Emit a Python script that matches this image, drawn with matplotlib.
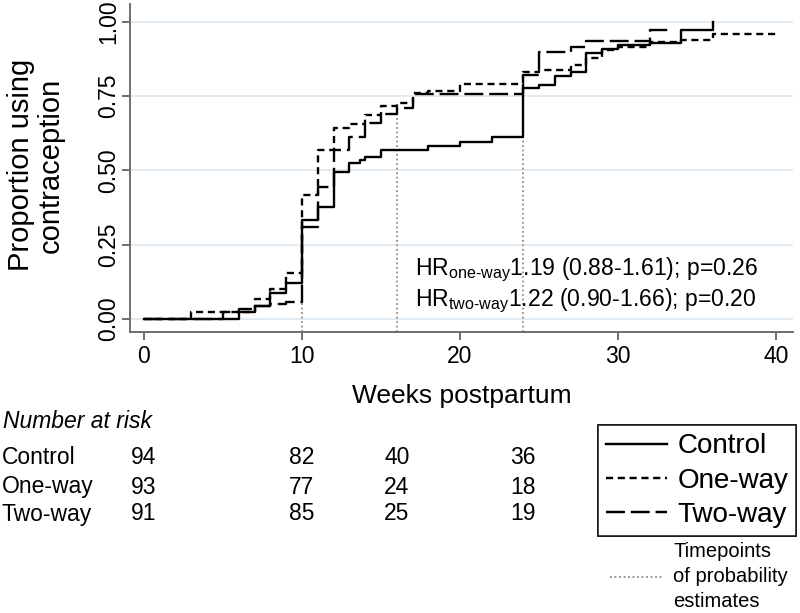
import matplotlib
matplotlib.use("Agg")
import matplotlib.pyplot as plt
import matplotlib.transforms as mtransforms
from matplotlib.lines import Line2D

plt.rcParams['font.family'] = ['Liberation Sans', 'DejaVu Sans']
plt.rcParams['mathtext.fontset'] = 'custom'
plt.rcParams['mathtext.rm'] = 'Liberation Sans'
plt.rcParams['mathtext.it'] = 'Liberation Sans:italic'

# step curves (weeks postpartum, cumulative proportion using contraception)
control_t = [0, 6, 7, 8, 9, 10, 11, 12, 13, 13.7, 14, 15, 18, 20, 22, 24, 25, 26, 27, 28, 29, 30, 32, 34, 36]
control_p = [0, 0.022, 0.045, 0.087, 0.121, 0.333, 0.376, 0.496, 0.526, 0.535, 0.546, 0.569, 0.583, 0.597,
             0.614, 0.779, 0.788, 0.818, 0.83, 0.894, 0.908, 0.922, 0.93, 0.973, 1.0]
control_end = 36

oneway_t = [0, 3, 7, 8, 9, 10, 11, 12, 13, 14, 15, 16, 17, 18, 20, 24, 25, 27, 28, 29, 30, 32, 34, 36]
oneway_p = [0, 0.022, 0.067, 0.10, 0.155, 0.417, 0.569, 0.642, 0.657, 0.687, 0.717, 0.726, 0.76, 0.769,
            0.791, 0.83, 0.838, 0.855, 0.88, 0.905, 0.915, 0.933, 0.94, 0.958]
oneway_end = 40

twoway_t = [0, 5, 6, 7, 8, 9, 10, 11, 12, 13, 14, 15, 16, 17, 24, 25, 27, 28, 32]
twoway_p = [0, 0.022, 0.033, 0.044, 0.05, 0.058, 0.311, 0.445, 0.569, 0.614, 0.661, 0.69, 0.71, 0.758,
            0.82, 0.90, 0.917, 0.936, 0.973]
twoway_end = 33.5

# timepoints of probability estimates
est_weeks = [10, 16, 24]

# number at risk table
risk_weeks = [0, 10, 16, 24]
risk_groups = ['Control', 'One-way', 'Two-way']
control_risk = [94, 82, 40, 36]
oneway_risk = [93, 77, 24, 18]
twoway_risk = [91, 85, 25, 19]

hr_lines = [r'HR$_{\text{one-way}}$1.19 (0.88-1.61); p=0.26',
            r'HR$_{\text{two-way}}$1.22 (0.90-1.66); p=0.20']

W, H = 800, 613
fig = plt.figure(figsize=(W / 100, H / 100), dpi=100)
ax = fig.add_axes([130 / W, 1 - 332 / H, (793 - 130) / W, (332 - 4) / H])
ax.set_xlim(-0.886, 41.08)
ax.set_ylim(-0.0438, 1.0606)

grid_col = '#dde9f0'
for v in [0, 0.25, 0.5, 0.75, 1.0]:
    ax.axhline(v, color=grid_col, lw=1.2, zorder=0)

styles = {
    'Control': dict(ls='-'),
    'One-way': dict(ls=(0, (3.0, 2.0))),
    'Two-way': dict(ls=(0, (8.0, 2.5))),
}
series = [('Control', control_t, control_p, control_end),
          ('One-way', oneway_t, oneway_p, oneway_end),
          ('Two-way', twoway_t, twoway_p, twoway_end)]


def step_value(t, p, x):
    # value just before time x
    v = 0
    for ti, pi in zip(t, p):
        if ti < x:
            v = pi
    return v


# dotted reference lines at estimate timepoints
for w in est_weeks:
    top = max(step_value(t, p, w) for _, t, p, _ in series)
    ax.plot([w, w], [ax.get_ylim()[0], top], color='#8c8c8c', ls=(0, (1, 1.5)), lw=1.3, zorder=1)

for name, t, p, end in series:
    tt = list(t) + ([end] if end > t[-1] else [])
    pp = list(p) + ([p[-1]] if end > t[-1] else [])
    ax.step(tt, pp, where='post', color='black', lw=1.7, zorder=3, **styles[name])

for s in ['top', 'right']:
    ax.spines[s].set_visible(False)
for s in ['left', 'bottom']:
    ax.spines[s].set_color('#6e6e6e')
    ax.spines[s].set_linewidth(1.4)

ax.set_xticks([0, 10, 20, 30, 40])
ax.set_yticks([0, 0.25, 0.5, 0.75, 1.0])
ax.set_yticklabels(['0.00', '0.25', '0.50', '0.75', '1.00'], rotation=90, va='center')
ax.tick_params(axis='both', colors='#6e6e6e', width=1.4, length=6, labelsize=16.5, labelcolor='black')
ax.tick_params(axis='y', pad=1)
ax.tick_params(axis='x', pad=3)

ax.set_xlabel('Weeks postpartum', fontsize=19, labelpad=12)
fig.text(36 / W, 1 - 165 / H, 'Proportion using\ncontraception', rotation=90, ha='center', va='center',
         fontsize=21, linespacing=1.05)

for i, line in enumerate(hr_lines):
    ax.text(17.15, 0.148 - i * 0.104, line, fontsize=16.6, ha='left', va='baseline', zorder=4)

# number at risk
trans = mtransforms.blended_transform_factory(ax.transData, fig.transFigure)
fig.text(3 / W, 1 - 421 / H, 'Number at risk', fontsize=16.5, style='italic', va='center', ha='left')
row_y = [458, 487, 514]
for name, vals, y in zip(risk_groups, [control_risk, oneway_risk, twoway_risk], row_y):
    fig.text(2 / W, 1 - y / H, name, fontsize=16.5, va='center', ha='left')
    for w, n in zip(risk_weeks, vals):
        ax.text(w, 1 - y / H, str(n), transform=trans, fontsize=16.5, va='center', ha='center')

handles = [Line2D([], [], color='black', lw=1.7, **styles[n]) for n in risk_groups]
leg = fig.legend(handles, risk_groups, loc='upper left', bbox_to_anchor=(598 / W, 1 - 425 / H),
                 fontsize=20, frameon=True, fancybox=False, edgecolor='black', handlelength=2.2,
                 handletextpad=0.35, labelspacing=0.3, borderpad=0.3, borderaxespad=0)
leg.get_frame().set_linewidth(1.2)

dot_handle = Line2D([], [], color='#8c8c8c', ls=(0, (1, 1.5)), lw=1.3)
leg2 = fig.legend([dot_handle], ['Timepoints\nof probability\nestimates'], loc='upper left',
                  bbox_to_anchor=(610 / W, 1 - 542 / H), fontsize=14.5, frameon=False,
                  handlelength=2.6, handletextpad=0.55, borderaxespad=0, borderpad=0, labelspacing=0)
leg2.get_texts()[0].set_linespacing(1.4)
fig.add_artist(leg)

fig.savefig('out.png', dpi=100)
